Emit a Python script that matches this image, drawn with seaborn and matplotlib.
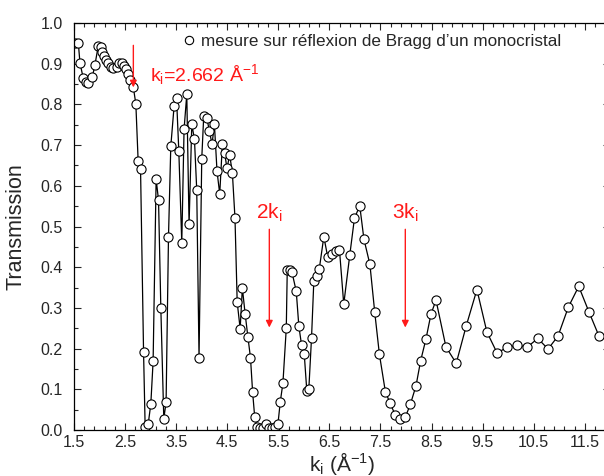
import numpy as np
import pandas as pd
import matplotlib
matplotlib.use('Agg')
import matplotlib.pyplot as plt
import seaborn as sns
from matplotlib.lines import Line2D
from matplotlib.ticker import FixedLocator, MultipleLocator

# measured transmission vs incident wave vector k_i (1/Angstrom)
k_vals = [1.52, 1.584, 1.617, 1.682, 1.734, 1.779, 1.858, 1.910, 1.975, 2.022,
          2.053, 2.086, 2.125, 2.170, 2.217, 2.256, 2.334, 2.385, 2.438, 2.477,
          2.516, 2.561, 2.594, 2.662, 2.711, 2.756, 2.803, 2.862, 2.893, 2.952,
          3.004, 3.049, 3.108, 3.155, 3.200, 3.258, 3.303, 3.350, 3.395, 3.460,
          3.507, 3.552, 3.610, 3.655, 3.708, 3.753, 3.806, 3.858, 3.903, 3.948,
          4.001, 4.040, 4.099, 4.151, 4.202, 4.249, 4.300, 4.353, 4.405, 4.450,
          4.495, 4.548, 4.601, 4.652, 4.695, 4.753, 4.796, 4.851, 4.904, 4.955,
          4.997, 5.037, 5.085, 5.148, 5.199, 5.265, 5.316, 5.375, 5.433, 5.492,
          5.539, 5.590, 5.656, 5.675, 5.720, 5.765, 5.851, 5.902, 5.955, 6.008,
          6.058, 6.097, 6.150, 6.195, 6.248, 6.301, 6.391, 6.469, 6.547, 6.633,
          6.697, 6.781, 6.899, 6.990, 7.094, 7.176, 7.293, 7.387, 7.479, 7.596,
          7.688, 7.792, 7.883, 7.987, 8.085, 8.196, 8.286, 8.391, 8.489, 8.587,
          8.782, 8.983, 9.179, 9.388, 9.583, 9.784, 9.986, 10.181, 10.376, 10.580,
          10.781, 10.976, 11.178, 11.381, 11.582, 11.777]
trans = [0.952, 0.952, 0.902, 0.864, 0.856, 0.852, 0.867, 0.897, 0.944, 0.941,
         0.930, 0.918, 0.910, 0.902, 0.893, 0.890, 0.893, 0.902, 0.903, 0.894,
         0.886, 0.874, 0.860, 0.842, 0.801, 0.661, 0.641, 0.191, 0.008, 0.014,
         0.064, 0.169, 0.616, 0.565, 0.300, 0.028, 0.068, 0.475, 0.697, 0.796,
         0.817, 0.686, 0.460, 0.739, 0.825, 0.505, 0.751, 0.715, 0.590, 0.178,
         0.666, 0.772, 0.767, 0.735, 0.702, 0.751, 0.636, 0.580, 0.702, 0.680,
         0.643, 0.676, 0.631, 0.520, 0.314, 0.249, 0.349, 0.285, 0.229, 0.178,
         0.093, 0.033, 0.008, 0.006, 0.006, 0.014, 0.004, 0.006, 0.008, 0.014,
         0.070, 0.115, 0.250, 0.393, 0.393, 0.389, 0.341, 0.255, 0.209, 0.186,
         0.096, 0.100, 0.226, 0.365, 0.379, 0.395, 0.475, 0.424, 0.432, 0.440,
         0.443, 0.309, 0.430, 0.520, 0.551, 0.469, 0.407, 0.290, 0.186, 0.094,
         0.066, 0.036, 0.026, 0.032, 0.063, 0.109, 0.170, 0.224, 0.285, 0.319,
         0.204, 0.164, 0.256, 0.345, 0.241, 0.189, 0.204, 0.208, 0.204, 0.225,
         0.199, 0.231, 0.302, 0.353, 0.290, 0.231]

k_i = 2.662
legend_label = 'mesure sur réflexion de Bragg d\u2019un monocristal'

df = pd.DataFrame({'k': k_vals, 'T': trans})

sns.set_theme(style='ticks')
plt.rcParams['font.family'] = ['Liberation Sans', 'DejaVu Sans']
plt.rcParams['mathtext.fontset'] = 'custom'
plt.rcParams['mathtext.rm'] = 'Liberation Sans'
plt.rcParams['mathtext.it'] = 'Liberation Sans'

fig = plt.figure(figsize=(6.04, 4.76), dpi=100)
ax = fig.add_axes([0.1225, 0.0966, 0.888, 0.855])

sns.lineplot(data=df, x='k', y='T', ax=ax, sort=False, estimator=None,
             color='black', linewidth=0.9, marker='o', markersize=6.6,
             markerfacecolor='white', markeredgecolor='black',
             markeredgewidth=0.8)

ax.set_xlim(1.5, 12.0)
ax.set_ylim(0, 1.0)
ax.xaxis.set_major_locator(FixedLocator(np.arange(1.5, 12.0, 1.0)))
ax.xaxis.set_minor_locator(FixedLocator(np.arange(1.5, 12.0, 0.2)))
ax.yaxis.set_major_locator(MultipleLocator(0.1))
ax.yaxis.set_minor_locator(MultipleLocator(0.05))
ax.xaxis.set_major_formatter(matplotlib.ticker.FormatStrFormatter('%.1f'))
ax.yaxis.set_major_formatter(matplotlib.ticker.FormatStrFormatter('%.1f'))
ax.tick_params(which='both', direction='in', top=True, right=True,
               labelsize=11.5, width=0.8)
ax.tick_params(which='major', length=5)
ax.tick_params(axis='y', which='major', pad=8)
ax.tick_params(which='minor', length=3)
for s in ax.spines.values():
    s.set_linewidth(0.9)
    s.set_color('black')

ax.set_xlabel(r'k$_\mathregular{i}$ ($\mathregular{\AA^{-1}}$)', fontsize=15, labelpad=0)
ax.set_ylabel('Transmission', fontsize=15.5, labelpad=10)

# arrows marking k_i and harmonics
red = '#ff1a1a'
ax.annotate('', xy=(k_i, 0.835), xytext=(k_i, 0.952),
            arrowprops=dict(arrowstyle='-|>', color=red, lw=1, mutation_scale=10))
ax.text(k_i + 0.33, 0.858, r'k$_\mathregular{i}$=2.662 Å$^{\mathregular{-1}}$',
        color=red, fontsize=14, ha='left', va='baseline')
for n, lab in [(2, r'2k$_\mathregular{i}$'), (3, r'3k$_\mathregular{i}$')]:
    ax.annotate('', xy=(n * k_i, 0.245), xytext=(n * k_i, 0.50),
                arrowprops=dict(arrowstyle='-|>', color=red, lw=1, mutation_scale=10))
    ax.text(n * k_i, 0.52, lab, color=red, fontsize=15, ha='center', va='baseline')

handle = Line2D([], [], linestyle='none', marker='o', markersize=6,
                markerfacecolor='white', markeredgecolor='black', markeredgewidth=0.8)
ax.legend([handle], [legend_label], loc='upper left', bbox_to_anchor=(0.177, 1.0),
          frameon=False, fontsize=12.3, handletextpad=0.2, borderaxespad=0.25,
          handlelength=1.0)

fig.savefig('out.png', dpi=100)
